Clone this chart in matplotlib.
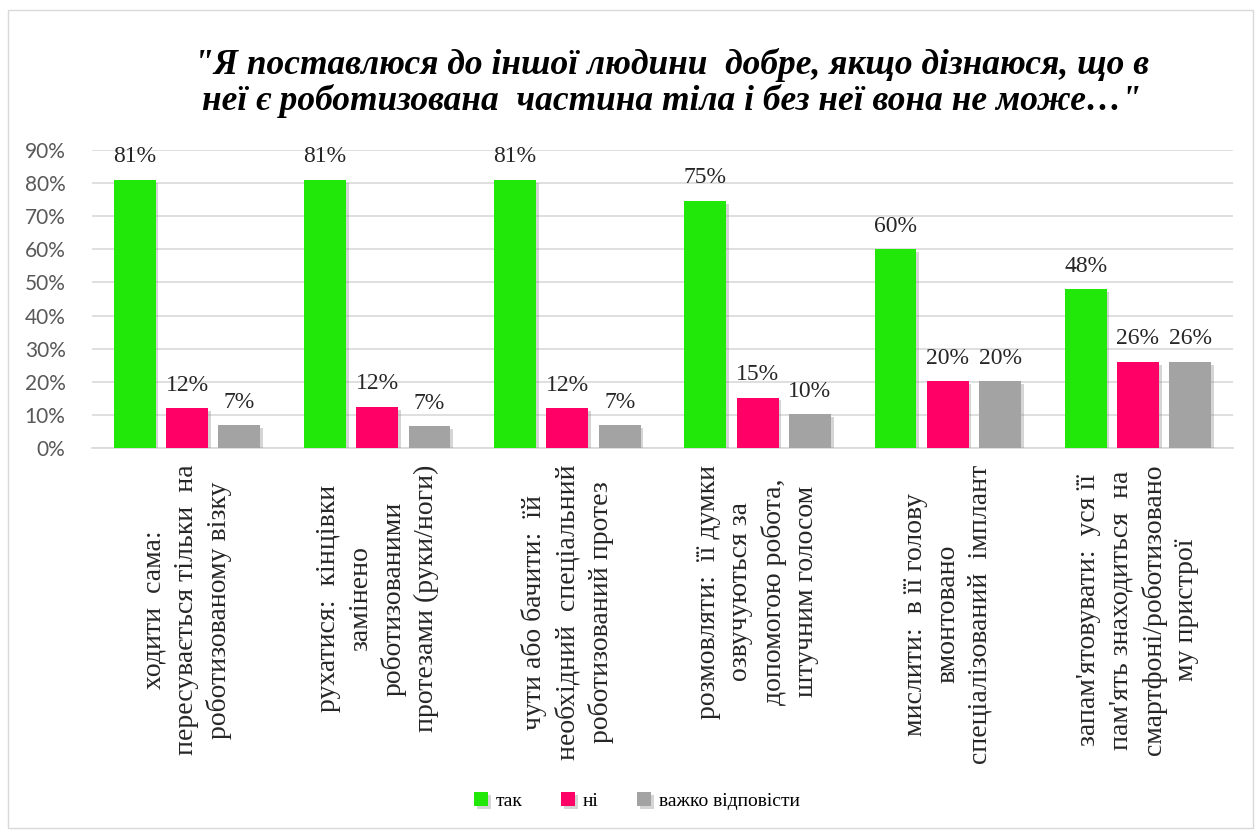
import matplotlib
matplotlib.use("Agg")
import matplotlib.pyplot as plt
import matplotlib.patheffects as pe
from matplotlib.patches import Rectangle
import numpy as np

categories = [
    "ходити  сама:\nпересувається тільки  на\nроботизованому візку",
    "рухатися:  кінцівки\nзамінено\nроботизованими\nпротезами (руки/ноги)",
    "чути або бачити:  їй\nнеобхідний  спеціальний\nроботизований протез",
    "розмовляти:  її думки\nозвучуються за\nдопомогою робота,\nштучним голосом",
    "мислити:  в її голову\nвмонтовано\nспеціалізований  імплант",
    "запам'ятовувати:  уся її\nпам'ять знаходиться  на\nсмартфоні/роботизовано\nму пристрої",
]
series_names = ["так", "ні", "важко відповісти"]
tak = [81, 81, 81, 74.6, 60, 48]
ni = [12, 12.4, 12, 15.2, 20.1, 26]
vazhko = [6.8, 6.6, 6.9, 10.2, 20.1, 26]
yticks = [0, 10, 20, 30, 40, 50, 60, 70, 80, 90]
title = "\"Я поставлюся до іншої людини  добре, якщо дізнаюся, що в\nнеї є роботизована  частина тіла і без неї вона не може…\""

colors = ["#22E80A", "#FF0066", "#A3A3A3"]

fig = plt.figure(figsize=(12.6, 8.34), dpi=100)
fig.patches.append(Rectangle((8 / 1260, 1 - 828 / 834), 1245 / 1260, 818 / 834,
                             transform=fig.transFigure, fill=False,
                             edgecolor="#D9D9D9", linewidth=1.0))

ax = fig.add_axes([92 / 1260, 1 - 448 / 834, (1233 - 92) / 1260, (448 - 150) / 834])

x = np.arange(len(categories))
w = 0.22
off = 0.275
shadow = [pe.SimplePatchShadow(offset=(2, -2), shadow_rgbFace="#888888", alpha=0.35), pe.Normal()]
for i, (vals, name) in enumerate(zip([tak, ni, vazhko], series_names)):
    bars = ax.bar(x + (i - 1) * off, vals, width=w, color=colors[i], label=name, zorder=3)
    for b in bars:
        b.set_path_effects(shadow)
    for xi, v in zip(x + (i - 1) * off, vals):
        ax.annotate(f"{v:.0f}%", (xi, v), xytext=(0, 9), textcoords="offset points",
                    ha="center", va="bottom", fontsize=17, family="Liberation Serif",
                    color="#262626", zorder=4)

ax.set_xlim(-0.5, len(categories) - 0.5)
ax.set_ylim(0, 90)
ax.set_yticks(yticks)
ax.set_yticklabels([f"{t}%" for t in yticks], fontsize=15, family="Lato", color="#595959")
ax.tick_params(axis="y", length=0, pad=19)
ax.yaxis.grid(True, color="#D9D9D9", linewidth=1.2, zorder=0)
ax.set_axisbelow(True)
for s in ["top", "right", "left"]:
    ax.spines[s].set_visible(False)
ax.spines["bottom"].set_color("#D9D9D9")
ax.spines["bottom"].set_linewidth(1.2)

ax.set_xticks(x)
ax.set_xticklabels(categories, rotation=90, ha="center", va="top", multialignment="center",
                   fontsize=20, family="Liberation Serif", color="#262626", linespacing=1.38)
ax.tick_params(axis="x", length=0, pad=12)

fig.text(672 / 1260, 1 - 83 / 834, title, ha="center", va="center", fontsize=25.5,
         family="Liberation Serif", fontweight="bold", fontstyle="italic", linespacing=1.07,
         color="#000000")

leg = fig.legend(loc="center", bbox_to_anchor=(637 / 1260, 1 - 801 / 834), ncol=3, frameon=False,
                 prop={"family": "Liberation Serif", "size": 14}, handlelength=0.7, handleheight=0.7,
                 columnspacing=2.0, handletextpad=0.4)

fig.savefig("out.png", dpi=100)
